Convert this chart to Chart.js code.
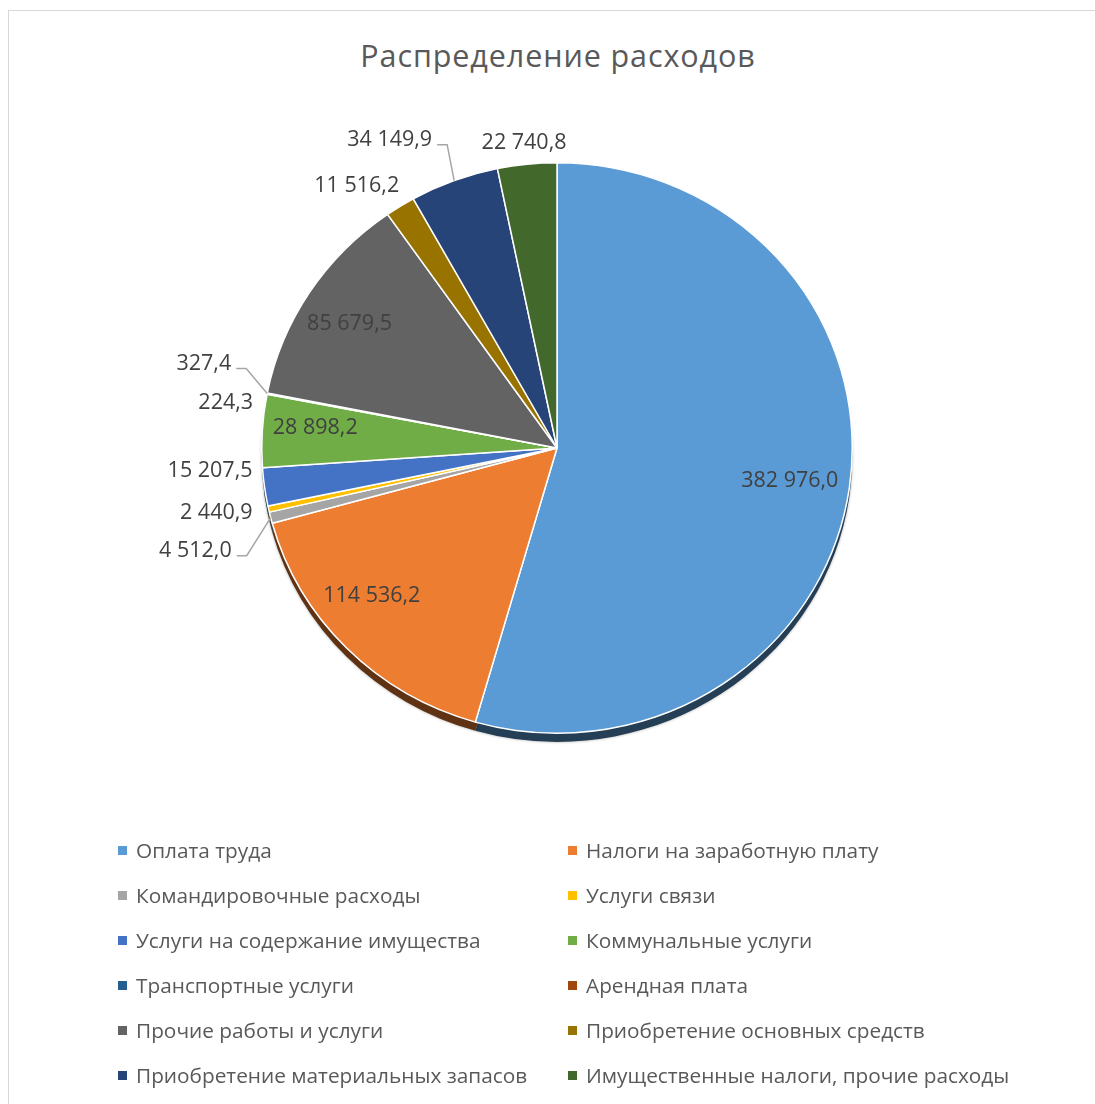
<!DOCTYPE html>
<html>
<head>
<meta charset="utf-8">
<script src="https://cdn.jsdelivr.net/npm/chart.js@4.4.1/dist/chart.umd.min.js"></script>
<style>
  html, body { margin:0; padding:0; background:#fff; }
  body { width:1095px; height:1104px; position:relative; overflow:hidden; font-family:"Open Sans", sans-serif; }
  #frame { position:absolute; left:8px; top:10px; width:1200px; height:1200px; border-left:1.5px solid #d9d9d9; border-top:1.5px solid #d9d9d9; }
  #title { position:absolute; left:0; width:1116px; top:35px; text-align:center; font-size:30.5px; letter-spacing:0.9px; color:#595959; line-height:40px; }
  canvas { position:absolute; left:0; top:0; }
  .lg { position:absolute; font-size:20.8px; color:#595959; line-height:26px; white-space:nowrap; }
  .lg span.box { position:absolute; left:-18px; top:9px; width:9px; height:9px; }
</style>
</head>
<body>
<div id="frame"></div>
<div id="title">Распределение расходов</div>
<canvas id="c" width="1095" height="1104"></canvas>
<div id="legend"></div>
<script>
// ---- data ----
const categories = [
  'Оплата труда',
  'Налоги на заработную плату',
  'Командировочные расходы',
  'Услуги связи',
  'Услуги на содержание имущества',
  'Коммунальные услуги',
  'Транспортные услуги',
  'Арендная плата',
  'Прочие работы и услуги',
  'Приобретение основных средств',
  'Приобретение материальных запасов',
  'Имущественные налоги, прочие расходы'
];
const values = [382976.0, 114536.2, 4512.0, 2440.9, 15207.5, 28898.2, 224.3, 327.4, 85679.5, 11516.2, 34149.9, 22740.8];
const colors = ['#5B9BD5','#ED7D31','#A5A5A5','#FFC000','#4472C4','#70AD47','#255E91','#9E480E','#636363','#997300','#264478','#43682B'];

// ---- label layout (style, not data) ----
const labelLayout = [
  {mode:'in', dx:-4, dy:1},
  {mode:'in', dx:-15, dy:-14},
  {mode:'out', align:'right', dx:-39, dy:33, leader:true},
  {mode:'out', align:'right', dx:-16, dy:4},
  {mode:'out', align:'right', dx:-12, dy:-16},
  {mode:'in', dx:-3, dy:-6},
  {mode:'out', align:'right', dx:-14, dy:9},
  {mode:'out', align:'right', dx:-36, dy:-30, leader:true},
  {mode:'in', dx:-7, dy:2},
  {mode:'out', align:'right', dx:-1, dy:-20},
  {mode:'out', align:'right', dx:-22, dy:-41, leader:true},
  {mode:'out', align:'center', dx:-3, dy:-21}
];

const squash = 0.966;   // slight 3D tilt of the pie
const depth = 9;        // thickness of the pie edge

function fmt(v) {
  const s = v.toFixed(1).split('.');
  const int = s[0].replace(/\B(?=(\d{3})+(?!\d))/g, ' ');
  return int + ',' + s[1];
}
function darken(hex, f) {
  const n = parseInt(hex.slice(1), 16);
  const r = Math.round(((n >> 16) & 255) * f), g = Math.round(((n >> 8) & 255) * f), b = Math.round((n & 255) * f);
  return 'rgb(' + r + ',' + g + ',' + b + ')';
}

const tiltPlugin = {
  id: 'tilt',
  beforeDatasetsDraw(chart) {
    const ctx = chart.ctx;
    const meta = chart.getDatasetMeta(0);
    const a0 = meta.data[0];
    const cx = a0.x, cy = a0.y;
    ctx.save();
    ctx.translate(cx, cy);
    ctx.scale(1, squash);
    ctx.translate(-cx, -cy);
    ctx.save();
    ctx.shadowColor = 'rgba(0,0,0,0.35)';
    ctx.shadowBlur = 3;
    meta.data.forEach((arc, i) => {
      const p = arc.getProps(['x','y','startAngle','endAngle','outerRadius'], true);
      ctx.beginPath();
      ctx.moveTo(p.x, p.y + depth);
      ctx.arc(p.x, p.y + depth, p.outerRadius, p.startAngle, p.endAngle);
      ctx.closePath();
      ctx.fillStyle = darken(colors[i], 0.4);
      ctx.fill();
    });
    ctx.restore();
  },
  afterDatasetsDraw(chart) {
    const ctx = chart.ctx;
    ctx.restore();
    const meta = chart.getDatasetMeta(0);
    ctx.save();
    ctx.font = '21.5px "Open Sans"';
    ctx.textBaseline = 'middle';
    meta.data.forEach((arc, i) => {
      const p = arc.getProps(['x','y','startAngle','endAngle','outerRadius'], true);
      const mid = (p.startAngle + p.endAngle) / 2;
      const L = labelLayout[i];
      const text = fmt(values[i]);
      if (L.mode === 'in') {
        const r = p.outerRadius * 0.81;
        const x = p.x + r * Math.cos(mid) + L.dx;
        const y = p.y + r * Math.sin(mid) * squash + L.dy;
        ctx.textAlign = 'center';
        ctx.fillStyle = '#404040';
        ctx.fillText(text, x, y);
      } else {
        const ex = p.x + p.outerRadius * Math.cos(mid);
        const ey = p.y + p.outerRadius * Math.sin(mid) * squash;
        const ax = ex + L.dx, ay = ey + L.dy;
        if (L.leader) {
          ctx.beginPath();
          ctx.moveTo(ex, ey);
          ctx.lineTo(ax + 15, ay + 5);
          ctx.lineTo(ax + 5, ay + 5);
          ctx.strokeStyle = '#a6a6a6';
          ctx.lineWidth = 1.5;
          ctx.stroke();
        }
        ctx.textAlign = L.align;
        ctx.fillStyle = '#404040';
        ctx.fillText(text, ax, ay);
      }
    });
    ctx.restore();
  }
};

new Chart(document.getElementById('c'), {
  type: 'pie',
  data: {
    labels: categories,
    datasets: [{
      data: values,
      backgroundColor: colors,
      borderColor: '#ffffff',
      borderWidth: 1.5,
      clip: false
    }]
  },
  options: {
    responsive: false,
    animation: false,
    events: [],
    layout: { padding: { left: 261, right: 242, top: 152, bottom: 360 } },
    plugins: { legend: { display: false }, title: { display: false }, tooltip: { enabled: false } }
  },
  plugins: [tiltPlugin]
});

// ---- legend ----
const lg = document.getElementById('legend');
categories.forEach((name, i) => {
  const col = i % 2, row = Math.floor(i / 2);
  const d = document.createElement('div');
  d.className = 'lg';
  d.style.left = (col === 0 ? 136 : 586) + 'px';
  d.style.top = (837 + row * 45) + 'px';
  const b = document.createElement('span');
  b.className = 'box';
  b.style.background = colors[i];
  d.appendChild(b);
  d.appendChild(document.createTextNode(name));
  lg.appendChild(d);
});
</script>
</body>
</html>
